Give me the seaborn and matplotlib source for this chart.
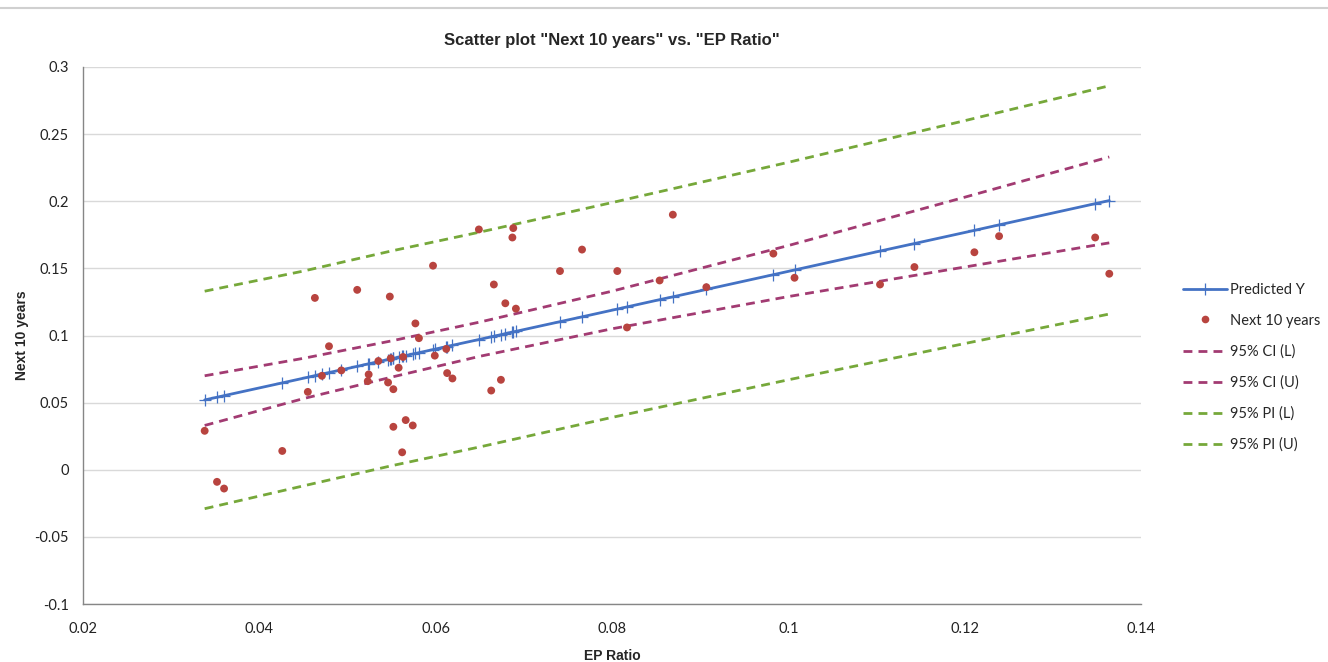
import numpy as np
import pandas as pd
import seaborn as sns
import matplotlib.pyplot as plt
from matplotlib.lines import Line2D

ep_ratio = [0.0338, 0.0352, 0.0360, 0.0426, 0.0455, 0.0463, 0.0471, 0.0479, 0.0493, 0.0511,
            0.0523, 0.0524, 0.0535, 0.0546, 0.0548, 0.0549, 0.0552, 0.0552, 0.0558, 0.0562,
            0.0563, 0.0566, 0.0574, 0.0577, 0.0581, 0.0597, 0.0599, 0.0612, 0.0613, 0.0619,
            0.0649, 0.0663, 0.0666, 0.0674, 0.0679, 0.0687, 0.0688, 0.0691, 0.0741, 0.0766,
            0.0806, 0.0817, 0.0854, 0.0869, 0.0907, 0.0983, 0.1007, 0.1104, 0.1143, 0.1211,
            0.1239, 0.1348, 0.1364]
next_10_years = [0.029, -0.009, -0.014, 0.014, 0.058, 0.128, 0.070, 0.092, 0.074, 0.134,
                 0.066, 0.071, 0.081, 0.065, 0.129, 0.083, 0.032, 0.060, 0.076, 0.013,
                 0.084, 0.037, 0.033, 0.109, 0.098, 0.152, 0.085, 0.090, 0.072, 0.068,
                 0.179, 0.059, 0.138, 0.067, 0.124, 0.173, 0.180, 0.120, 0.148, 0.164,
                 0.148, 0.106, 0.141, 0.190, 0.136, 0.161, 0.143, 0.138, 0.151, 0.162,
                 0.174, 0.173, 0.146]
predicted_y = [0.0520, 0.0540, 0.0552, 0.0647, 0.0689, 0.0701, 0.0713, 0.0724, 0.0744, 0.0770,
               0.0788, 0.0789, 0.0805, 0.0821, 0.0824, 0.0825, 0.0830, 0.0830, 0.0838, 0.0844,
               0.0846, 0.0850, 0.0862, 0.0866, 0.0872, 0.0895, 0.0898, 0.0917, 0.0918, 0.0927,
               0.0970, 0.0990, 0.0995, 0.1006, 0.1014, 0.1025, 0.1027, 0.1031, 0.1103, 0.1139,
               0.1197, 0.1213, 0.1267, 0.1288, 0.1343, 0.1453, 0.1488, 0.1629, 0.1685, 0.1783,
               0.1824, 0.1982, 0.2005]

# interval bands, read at a few EP ratios
band_x = [0.0338, 0.045, 0.055, 0.065, 0.080, 0.100, 0.120, 0.1364]
ci_lower = [0.033, 0.053, 0.069, 0.0845, 0.105, 0.129, 0.151, 0.169]
ci_upper = [0.070, 0.083, 0.096, 0.110, 0.133, 0.167, 0.203, 0.233]
pi_lower = [-0.029, -0.012, 0.003, 0.017, 0.039, 0.067, 0.094, 0.116]
pi_upper = [0.133, 0.148, 0.163, 0.177, 0.199, 0.229, 0.260, 0.286]

blue = '#4472C4'
red = '#B8443F'
purple = '#A23B72'
green = '#76A83A'

sns.set_style("white")
plt.rcParams['font.family'] = ['Lato', 'DejaVu Sans']

fig = plt.figure(figsize=(13.28, 6.62), dpi=100)
ax = fig.add_axes([0.0625, 0.0876, 0.7967, 0.8112])

dash = (0, (3.2, 2.2))
sns.lineplot(x=band_x, y=pi_lower, ax=ax, color=green, linewidth=2, linestyle=dash, estimator=None)
sns.lineplot(x=band_x, y=pi_upper, ax=ax, color=green, linewidth=2, linestyle=dash, estimator=None)
sns.lineplot(x=band_x, y=ci_lower, ax=ax, color=purple, linewidth=2, linestyle=dash, estimator=None)
sns.lineplot(x=band_x, y=ci_upper, ax=ax, color=purple, linewidth=2, linestyle=dash, estimator=None)
sns.lineplot(x=ep_ratio, y=predicted_y, ax=ax, color=blue, linewidth=2, marker='+',
             markersize=8, markeredgewidth=0.9, markeredgecolor=blue, estimator=None)
sns.scatterplot(x=ep_ratio, y=next_10_years, ax=ax, color=red, s=32, edgecolor='none', zorder=5)

ax.set_xlim(0.02, 0.14)
ax.set_ylim(-0.1, 0.3)
ax.set_xticks(np.arange(0.02, 0.1401, 0.02))
ax.set_yticks(np.arange(-0.1, 0.3001, 0.05))
ax.set_xticklabels(['0.02', '0.04', '0.06', '0.08', '0.1', '0.12', '0.14'])
ax.set_yticklabels(['-0.1', '-0.05', '0', '0.05', '0.1', '0.15', '0.2', '0.25', '0.3'])
ax.tick_params(axis='both', labelsize=10.5, colors='#222222', direction='out', length=5,
               width=1)
ax.tick_params(axis='x', pad=8)
ax.tick_params(axis='y', pad=5)
ax.tick_params(axis='both', color='#868686')
ax.yaxis.grid(True, color='#d9d9d9', linewidth=1)
ax.xaxis.grid(False)
for side in ['top', 'right']:
    ax.spines[side].set_visible(False)
for side in ['left', 'bottom']:
    ax.spines[side].set_color('#868686')
    ax.spines[side].set_linewidth(1)

ax.set_title('Scatter plot "Next 10 years" vs. "EP Ratio"', fontsize=12, fontweight='bold',
             family=['Liberation Sans'], pad=16)
ax.set_xlabel('EP Ratio', fontsize=10, fontweight='bold', family=['Liberation Sans'], labelpad=9)
ax.set_ylabel('Next 10 years', fontsize=10, fontweight='bold', family=['Liberation Sans'], labelpad=4)

handles = [
    Line2D([], [], color=blue, linewidth=2, marker='+', markersize=8, markeredgewidth=0.9),
    Line2D([], [], color=red, linestyle='none', marker='o', markersize=5.5, markeredgecolor='none'),
    Line2D([], [], color=purple, linewidth=2, linestyle=dash),
    Line2D([], [], color=purple, linewidth=2, linestyle=dash),
    Line2D([], [], color=green, linewidth=2, linestyle=dash),
    Line2D([], [], color=green, linewidth=2, linestyle=dash),
]
labels = ['Predicted Y', 'Next 10 years', '95% CI (L)', '95% CI (U)', '95% PI (L)', '95% PI (U)']
fig.legend(handles, labels, loc='center left', bbox_to_anchor=(0.881, 0.445), frameon=False,
           fontsize=10.5, handlelength=3.0, handletextpad=0.2, labelspacing=1.15)

# spreadsheet border at the top of the screenshot
fig.add_artist(Line2D([0, 1], [0.988, 0.988], color='#d0d0d0', linewidth=1.5))

fig.savefig('out.png', dpi=100, facecolor='white')
